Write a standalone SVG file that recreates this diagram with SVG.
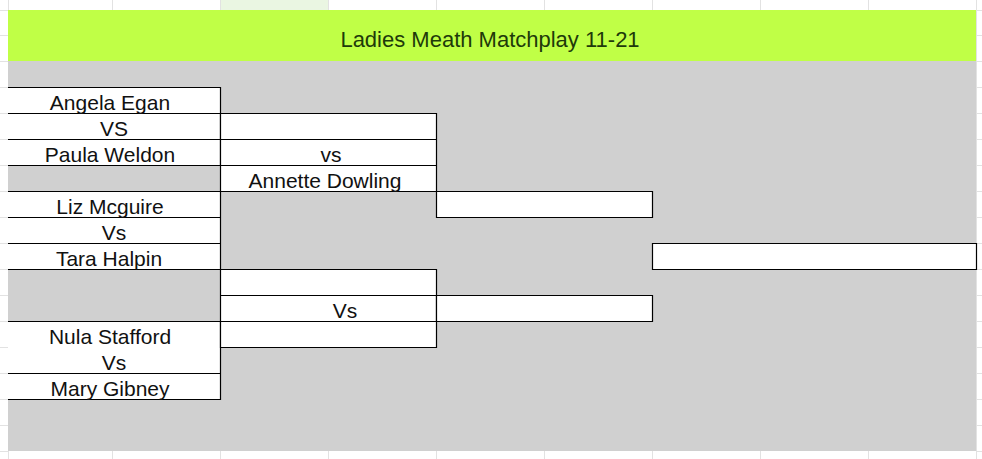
<svg xmlns="http://www.w3.org/2000/svg" width="982" height="459" viewBox="0 0 982 459">
<style>
.grid{stroke:#e2e2e2;stroke-width:1;fill:none}
.cell{fill:#ffffff}
.ln{stroke:#000;stroke-width:1.2;fill:none}
.t{font-family:"Liberation Sans","Noto Sans",sans-serif;font-size:21px;fill:#111;text-anchor:middle}
.title{font-family:"Liberation Sans","Noto Sans",sans-serif;font-size:22px;fill:#1e3a0a;text-anchor:middle}
</style>
<rect x="0" y="0" width="982" height="459" fill="#ffffff"/>
<rect x="220" y="0" width="108" height="10" fill="#eaf6e2"/>
<g id="gridlines" class="grid">
<path d="M112.5 0V10M220.5 0V10M328.5 0V10M436.5 0V10M544.5 0V10M652.5 0V10M760.5 0V10M868.5 0V10M976.5 0V10"/>
<path d="M112.5 451V459M220.5 451V459M328.5 451V459M436.5 451V459M544.5 451V459M652.5 451V459M760.5 451V459M868.5 451V459M976.5 451V459"/>
<path d="M0 10.5H8M0 35.5H8M0 61.5H8M0 87.5H8M0 113.5H8M0 139.5H8M0 165.5H8M0 191.5H8M0 217.5H8M0 243.5H8M0 269.5H8M0 295.5H8M0 321.5H8M0 347.5H8M0 373.5H8M0 399.5H8M0 425.5H8M0 451.5H8"/>
<path d="M976 10.5H982M976 35.5H982M976 61.5H982M976 87.5H982M976 113.5H982M976 139.5H982M976 165.5H982M976 191.5H982M976 217.5H982M976 243.5H982M976 269.5H982M976 295.5H982M976 321.5H982M976 347.5H982M976 373.5H982M976 399.5H982M976 425.5H982M976 451.5H982"/>
<path d="M8.5 0V459M976.5 0V459"/>
</g>
<g id="title">
<rect x="8" y="10" width="968" height="51" fill="#c0ff46"/>
<text class="title" x="490" y="47">Ladies Meath Matchplay 11-21</text>
</g>
<rect x="8" y="61" width="968" height="390" fill="#d0d0d0"/>
<g id="match1">
<rect class="cell" x="8" y="87" width="212" height="78"/>
<path class="ln" d="M8 87.5H220.5M8 113.5H220.5M8 139.5H220.5M8 165.5H220.5M220.5 87V166"/>
<text class="t" x="110" y="110">Angela Egan</text>
<text class="t" x="114" y="136">VS</text>
<text class="t" x="110" y="162">Paula Weldon</text>
</g>
<g id="match2">
<rect class="cell" x="8" y="191" width="212" height="78"/>
<path class="ln" d="M8 191.5H220.5M8 217.5H220.5M8 243.5H220.5M8 269.5H220.5M220.5 191V270"/>
<text class="t" x="110" y="214">Liz Mcguire</text>
<text class="t" x="114" y="240">Vs</text>
<text class="t" x="109" y="266">Tara Halpin</text>
</g>
<g id="match3">
<rect class="cell" x="8" y="321" width="212" height="78"/>
<path class="ln" d="M8 321.5H220.5M8 373.5H220.5M8 399.5H220.5M220.5 321V400"/>
<text class="t" x="110" y="344">Nula Stafford</text>
<text class="t" x="114" y="370">Vs</text>
<text class="t" x="110" y="396">Mary Gibney</text>
</g>
<g id="round2-top">
<rect class="cell" x="220" y="113" width="216" height="78"/>
<path class="ln" d="M220 113.5H436.5M220 139.5H436.5M220 165.5H436.5M220 191.5H436.5M220.5 113V192M436.5 113V192"/>
<text class="t" x="331" y="162">vs</text>
<text class="t" x="325" y="188">Annette Dowling</text>
</g>
<g id="round2-bottom">
<rect class="cell" x="220" y="269" width="216" height="78"/>
<path class="ln" d="M220 269.5H436.5M220 295.5H436.5M220 321.5H436.5M220 347.5H436.5M220.5 269V348M436.5 269V348"/>
<text class="t" x="345" y="318">Vs</text>
</g>
<g id="semi-top">
<rect class="cell" x="436" y="191" width="216" height="26"/>
<path class="ln" d="M436 191.5H652.5M436 217.5H652.5M436.5 191V218M652.5 191V218"/>
</g>
<g id="semi-bottom">
<rect class="cell" x="436" y="295" width="216" height="26"/>
<path class="ln" d="M436 295.5H652.5M436 321.5H652.5M436.5 295V322M652.5 295V322"/>
</g>
<g id="final">
<rect class="cell" x="652" y="243" width="324" height="26"/>
<path class="ln" d="M652 243.5H976.5M652 269.5H976.5M652.5 243V270M976.5 243V270"/>
</g>
<g id="connectors"></g>
</svg>
